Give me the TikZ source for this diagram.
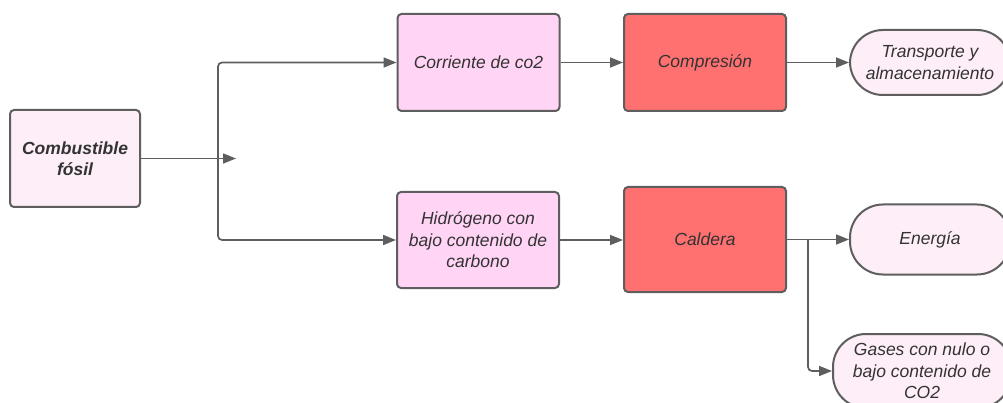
\documentclass[tikz,border=0pt]{standalone}
\usepackage{fontspec}
\setmainfont{Liberation Sans}
\usetikzlibrary{arrows.meta}
\definecolor{edgec}{HTML}{5E5E5E}
\definecolor{txtc}{HTML}{333333}
\definecolor{palepink}{HTML}{FDEEF8}
\definecolor{midpink}{HTML}{FFD4F4}
\definecolor{redbox}{HTML}{FF7070}
\tikzset{
  base/.style={draw=edgec, line width=2pt, text=txtc, align=center, inner sep=2pt,
    font=\fontsize{17.5}{21.5}\selectfont\itshape},
  procbox/.style={base, rounded corners=4pt, fill=midpink, minimum width=162pt, minimum height=97pt},
  hotbox/.style={base, rounded corners=4pt, fill=redbox, minimum width=162pt},
  srcbox/.style={base, rounded corners=4pt, fill=palepink, minimum width=130pt, minimum height=97pt,
    font=\fontsize{17.5}{21.5}\selectfont\bfseries\itshape},
  pill/.style={base, rounded corners=33pt, fill=palepink},
  arr/.style={draw=edgec, line width=1.7pt, -{Triangle[length=13pt,width=10pt]}},
}
\begin{document}
\begin{tikzpicture}[x=1pt,y=-1pt]
\useasboundingbox (0,0) rectangle (1003,403);
\node[srcbox] (comb) at (75,158.5) {Combustible\\fósil};
\node[procbox] (corr) at (478.5,62.5) {Corriente de co2};
\node[hotbox, minimum height=97pt] (comp) at (705,62.5) {Compresión};
\node[pill, minimum width=160pt, minimum height=65pt] (trans) at (930,62.5) {Transporte y\\almacenamiento};
\node[procbox, minimum height=96pt] (hidr) at (478,240) {Hidrógeno con\\bajo contenido de\\carbono};
\node[hotbox, minimum height=105pt] (cald) at (705,239.5) {Caldera};
\node[pill, minimum width=160pt, minimum height=70pt] (ener) at (930,239.5) {Energía};
\node[pill, minimum width=178pt, minimum height=74pt] (gases) at (922,371) {Gases con nulo o\\bajo contenido de\\CO2};
\coordinate (j) at (218,158.5);
\coordinate (jend) at (236,158.5);
\coordinate (k) at (808,239.5);
\draw[arr] (comb.east) -- (jend);
\draw[arr, rounded corners=4pt] (j) |- (corr.west);
\draw[arr, rounded corners=4pt] (j) |- (hidr.west);
\draw[arr] (corr.east) -- (comp.west);
\draw[arr] (comp.east) -- (trans.west);
\draw[arr] (hidr.east) -- (cald.west |- hidr.east);
\draw[arr] (cald.east) -- (ener.west);
\draw[arr, rounded corners=4pt] (k) |- (gases.west);
\end{tikzpicture}
\end{document}
